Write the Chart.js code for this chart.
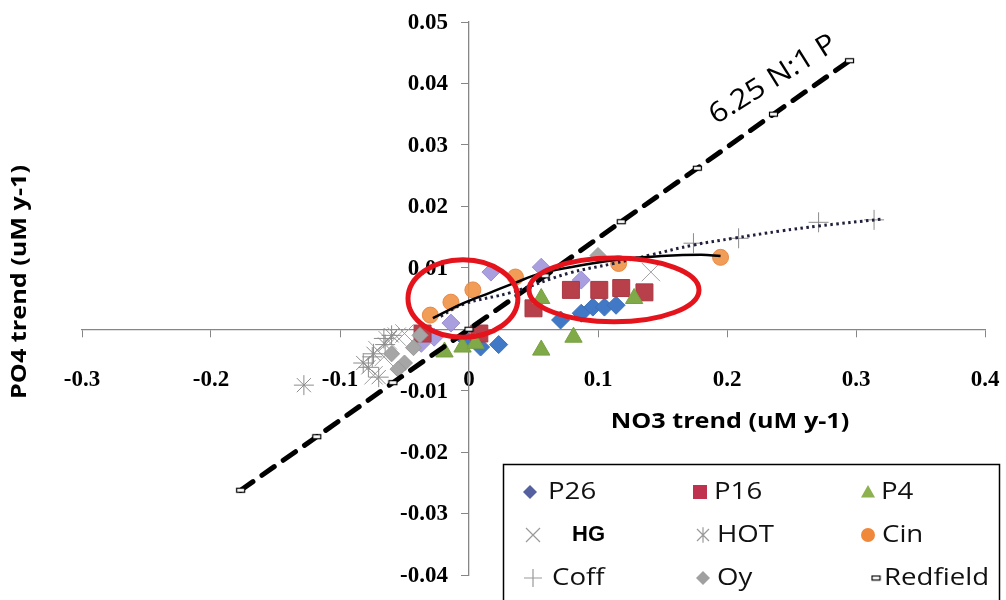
<!DOCTYPE html>
<html>
<head>
<meta charset="utf-8">
<script src="https://cdn.jsdelivr.net/npm/chart.js@4.4.1/dist/chart.umd.min.js"></script>
<style>
html,body{margin:0;padding:0;background:#fff;}
#wrap{width:1006px;height:600px;position:relative;}
</style>
</head>
<body>
<div id="wrap"><canvas id="c" width="1006" height="600"></canvas></div>
<script>
// ---------- tick labels ----------
const xTicks = [-0.3, -0.2, -0.1, 0, 0.1, 0.2, 0.3, 0.4];
const yTicks = [-0.04, -0.03, -0.02, -0.01, 0, 0.01, 0.02, 0.03, 0.04, 0.05];

// ---------- series (NO3 trend x, PO4 trend y) ----------
const p26X  = [0.023, 0.009, -0.002, 0.071, 0.087, 0.096, 0.105, 0.114];
const p26Y  = [-0.0025, -0.0029, -0.0018, 0.0015, 0.0026, 0.0036, 0.0036, 0.0039];
const p26bX = [0.017, 0.056, 0.087, -0.014, -0.027, -0.037];
const p26bY = [0.0093, 0.0101, 0.0080, 0.0010, -0.0013, -0.0023];
const p16X  = [0.050, 0.079, 0.101, 0.118, 0.136, 0.008, -0.036];
const p16Y  = [0.0034, 0.0064, 0.0064, 0.0067, 0.0060, -0.0007, -0.0007];
const p4X   = [0.056, 0.081, 0.128, 0.056, -0.019, -0.005, 0.005];
const p4Y   = [-0.0034, -0.0013, 0.0050, 0.0050, -0.0037, -0.0029, -0.0023];
const hgX   = [0.141, -0.071, -0.063, -0.050, -0.074, -0.066, -0.056];
const hgY   = [0.0093, -0.0034, -0.0018, -0.0007, -0.0075, -0.0045, -0.0012];
const hotX  = [-0.128, -0.074, -0.078, -0.070, -0.065, -0.082, -0.060];
const hotY  = [-0.0091, -0.0040, -0.0062, -0.0078, -0.0025, -0.0055, -0.0010];
const cinX  = [0.195, 0.116, 0.036, 0.003, -0.014, -0.030];
const cinY  = [0.0117, 0.0107, 0.0085, 0.0064, 0.0044, 0.0023];
const coffX = [0.174, 0.209, 0.271, 0.314, -0.066, -0.075];
const coffY = [0.0140, 0.0148, 0.0174, 0.0178, -0.0015, -0.0045];
const oyX   = [0.100, -0.050, -0.043, -0.055, -0.038, -0.060];
const oyY   = [0.0120, -0.0055, -0.0030, -0.0065, -0.0010, -0.0040];
const redX  = [-0.177, -0.118, -0.059, 0, 0.059, 0.118, 0.177, 0.236, 0.295];
const redY  = [-0.0262, -0.0175, -0.0087, 0, 0.0087, 0.0175, 0.0262, 0.0350, 0.0437];

// trend lines
const cinTrendX  = [-0.028, -0.006, 0.017, 0.035, 0.056, 0.087, 0.118, 0.149, 0.180, 0.195];
const cinTrendY  = [0.0018, 0.0041, 0.0060, 0.0075, 0.0091, 0.0104, 0.0114, 0.0119, 0.0121, 0.0119];
const coffTrendX = [-0.022, -0.004, 0.033, 0.077, 0.112, 0.141, 0.174, 0.205, 0.242, 0.271, 0.319];
const coffTrendY = [0.0021, 0.0041, 0.0060, 0.0091, 0.0107, 0.0121, 0.0137, 0.0148, 0.0160, 0.0168, 0.0179];

// annotations (data units)
const ratioLabel = {text: '6.25 N:1 P', x: 0.2357, y: 0.0406};
const ellipses = [
  {cx: -0.0047, cy: 0.0050, rx: 0.0426, ry: 0.0063},
  {cx: 0.1124, cy: 0.0064, rx: 0.0659, ry: 0.0052}
];

const zip = (xs, ys) => xs.map((v, i) => ({x: v, y: ys[i]}));

// Redfield dash marker
const dashMarker = document.createElement('canvas');
dashMarker.width = 11; dashMarker.height = 7;
(function(){
  const d = dashMarker.getContext('2d');
  d.fillStyle = '#fff'; d.fillRect(1, 1, 9, 5);
  d.strokeStyle = '#000'; d.lineWidth = 1.2; d.strokeRect(1.5, 1.5, 8, 4);
})();

const fmt = v => { const r = Math.round(v * 100) / 100; return String(r); };

function stretchText(ctx, text, x, y, font, sx, align, color, rot) {
  ctx.save();
  ctx.translate(x, y);
  if (rot) ctx.rotate(rot);
  ctx.scale(sx, 1);
  ctx.font = font;
  ctx.fillStyle = color || '#000';
  ctx.textAlign = align || 'left';
  ctx.textBaseline = 'middle';
  ctx.fillText(text, 0, 0);
  ctx.restore();
}

function marker(ctx, type, x, y, s, fill, stroke) {
  ctx.save();
  ctx.fillStyle = fill; ctx.strokeStyle = stroke || fill; ctx.lineWidth = 1.2;
  ctx.beginPath();
  if (type === 'diamond') {
    ctx.moveTo(x, y - s); ctx.lineTo(x + s, y); ctx.lineTo(x, y + s); ctx.lineTo(x - s, y); ctx.closePath(); ctx.fill();
  } else if (type === 'square') {
    ctx.rect(x - s, y - s, 2 * s, 2 * s); ctx.fill();
  } else if (type === 'triangle') {
    ctx.moveTo(x, y - s); ctx.lineTo(x + s, y + s * 0.8); ctx.lineTo(x - s, y + s * 0.8); ctx.closePath(); ctx.fill();
  } else if (type === 'circle') {
    ctx.arc(x, y, s, 0, 2 * Math.PI); ctx.fill();
  } else if (type === 'x') {
    ctx.moveTo(x - s, y - s); ctx.lineTo(x + s, y + s); ctx.moveTo(x + s, y - s); ctx.lineTo(x - s, y + s); ctx.stroke();
  } else if (type === 'star') {
    ctx.moveTo(x - s, y - s); ctx.lineTo(x + s, y + s); ctx.moveTo(x + s, y - s); ctx.lineTo(x - s, y + s);
    ctx.moveTo(x, y - s * 1.3); ctx.lineTo(x, y + s * 1.3); ctx.stroke();
  } else if (type === 'plus') {
    ctx.moveTo(x - s, y); ctx.lineTo(x + s, y); ctx.moveTo(x, y - s); ctx.lineTo(x, y + s); ctx.stroke();
  } else if (type === 'dash') {
    ctx.drawImage(dashMarker, x - 5.5, y - 3.5);
  }
  ctx.restore();
}

const tickFont = {family: '"Liberation Serif"', weight: 'bold', size: 23};
const axisColor = '#868686';

const overlay = {
  id: 'overlay',
  beforeDatasetsDraw(chart) {
    // y-axis tick labels, placed left of the crossing y axis using the library's own ticks
    const {ctx, scales: {x, y}} = chart;
    const axisX = x.getPixelForValue(0);
    ctx.save();
    ctx.font = 'bold 23px "Liberation Serif"';
    ctx.fillStyle = '#000';
    ctx.textAlign = 'right';
    ctx.textBaseline = 'middle';
    y.ticks.forEach(t => {
      if (Math.abs(t.value) < 1e-9) return;
      ctx.fillText(fmt(t.value), axisX - 21, y.getPixelForValue(t.value) + 1);
    });
    ctx.restore();
  },
  afterDatasetsDraw(chart) {
    const {ctx, scales: {x, y}} = chart;
    ctx.save();
    ctx.strokeStyle = '#e5141c';
    ctx.lineWidth = 5;
    ellipses.forEach(e => {
      const cx = x.getPixelForValue(e.cx), cy = y.getPixelForValue(e.cy);
      const rx = Math.abs(x.getPixelForValue(e.cx + e.rx) - cx);
      const ry = Math.abs(y.getPixelForValue(e.cy + e.ry) - cy);
      ctx.beginPath(); ctx.ellipse(cx, cy, rx, ry, 0, 0, 2 * Math.PI); ctx.stroke();
    });
    ctx.restore();
    stretchText(ctx, ratioLabel.text, x.getPixelForValue(ratioLabel.x), y.getPixelForValue(ratioLabel.y),
      '28px "Open Sans"', 1.1, 'center', '#000', -32 * Math.PI / 180);
  },
  afterDraw(chart) {
    const ctx = chart.ctx;
    stretchText(ctx, 'NO3 trend (uM y-1)', 730, 422, 'bold 21px "Open Sans"', 1.2, 'center', '#000');
    stretchText(ctx, 'PO4 trend (uM y-1)', 20, 282, 'bold 21px "Open Sans"', 1.2, 'center', '#000', -Math.PI / 2);
    ctx.save();
    ctx.fillStyle = '#fff';
    ctx.fillRect(503, 464, 497, 140);
    ctx.strokeStyle = '#000'; ctx.lineWidth = 1.5;
    ctx.strokeRect(503.5, 464.5, 496, 140);
    ctx.restore();
    const lf = '23px "Open Sans"';
    const rows = [492, 535, 578];
    marker(ctx, 'diamond', 530, rows[0], 7, '#5560a0');
    stretchText(ctx, 'P26', 548, rows[0], lf, 1.2, 'left', '#111');
    marker(ctx, 'square', 700, rows[0], 7, '#c0304f');
    stretchText(ctx, 'P16', 714, rows[0], lf, 1.2, 'left', '#111');
    marker(ctx, 'triangle', 868, rows[0], 7, '#8db050');
    stretchText(ctx, 'P4', 881, rows[0], lf, 1.2, 'left', '#111');
    marker(ctx, 'x', 533, rows[1], 7, '#999', '#999');
    ctx.save(); ctx.font = 'bold 22px "Liberation Sans"'; ctx.fillStyle = '#000'; ctx.textBaseline = 'middle'; ctx.fillText('HG', 572, rows[1]); ctx.restore();
    marker(ctx, 'star', 703, rows[1], 6, '#999', '#999');
    stretchText(ctx, 'HOT', 717, rows[1], lf, 1.2, 'left', '#111');
    marker(ctx, 'circle', 868, rows[1], 7, '#f0883c');
    stretchText(ctx, 'Cin', 882, rows[1], lf, 1.2, 'left', '#111');
    marker(ctx, 'plus', 533, rows[2], 9, '#999', '#999');
    stretchText(ctx, 'Coff', 552, rows[2], lf, 1.2, 'left', '#111');
    marker(ctx, 'diamond', 703, rows[2], 7, '#a0a0a0');
    stretchText(ctx, 'Oy', 717, rows[2], lf, 1.2, 'left', '#111');
    marker(ctx, 'dash', 876, rows[2], 5, '#000');
    stretchText(ctx, 'Redfield', 884, rows[2], lf, 1.2, 'left', '#111');
  }
};

new Chart(document.getElementById('c'), {
  type: 'scatter',
  data: {
    datasets: [
      {label: 'Cin trend', data: zip(cinTrendX, cinTrendY), showLine: true, borderColor: '#000', borderWidth: 2.5,
        pointRadius: 0, tension: 0.4, fill: false, order: 0},
      {label: 'Coff trend', data: zip(coffTrendX, coffTrendY), showLine: true, borderColor: '#20203c', borderWidth: 3,
        borderDash: [2.5, 3.5], pointRadius: 0, tension: 0.4, fill: false, order: 0},
      {label: 'Redfield', data: zip(redX, redY), showLine: true, borderColor: '#000', borderWidth: 5,
        borderDash: [15, 11], borderCapStyle: 'round', pointStyle: dashMarker, pointRadius: 5, order: 1},
      {label: 'Oy', data: zip(oyX, oyY), pointStyle: 'rectRot', pointRadius: 8, backgroundColor: '#a6a6a6', borderColor: '#9a9a9a', borderWidth: 1, order: 2},
      {label: 'Coff', data: zip(coffX, coffY), pointStyle: 'cross', pointRadius: 10, borderColor: '#8c8c8c', borderWidth: 1, order: 3},
      {label: 'Cin', data: zip(cinX, cinY), pointStyle: 'circle', pointRadius: 8, backgroundColor: 'rgba(240,146,70,0.9)', borderColor: 'rgba(230,130,60,0.9)', borderWidth: 1, order: 4},
      {label: 'HOT', data: zip(hotX, hotY), pointStyle: 'star', pointRadius: 10, borderColor: '#8c8c8c', borderWidth: 1, order: 5},
      {label: 'HG', data: zip(hgX, hgY), pointStyle: 'crossRot', pointRadius: 13, borderColor: '#a0a0a0', borderWidth: 1, order: 6},
      {label: 'P4', data: zip(p4X, p4Y), pointStyle: 'triangle', pointRadius: 10, backgroundColor: '#80aa48', borderColor: '#78a040', borderWidth: 1, order: 7},
      {label: 'P16', data: zip(p16X, p16Y), pointStyle: 'rect', pointRadius: 12, backgroundColor: '#b7404b', borderColor: '#a83843', borderWidth: 1, order: 8},
      {label: 'P26', data: zip(p26X, p26Y), pointStyle: 'rectRot', pointRadius: 9, backgroundColor: '#4179c6', borderColor: '#3a70b8', borderWidth: 1, order: 9},
      {label: 'P26 ', data: zip(p26bX, p26bY), pointStyle: 'rectRot', pointRadius: 9, backgroundColor: 'rgba(160,148,218,0.9)', borderColor: 'rgba(150,138,208,0.9)', borderWidth: 1, order: 10}
    ]
  },
  options: {
    responsive: false,
    animation: false,
    devicePixelRatio: 1,
    events: [],
    layout: {padding: {left: 82, right: 21, top: 22, bottom: 25}},
    plugins: {legend: {display: false}, tooltip: {enabled: false}, title: {display: false}},
    scales: {
      x: {
        type: 'linear', min: -0.3, max: 0.4, position: {y: 0},
        afterBuildTicks: s => { s.ticks = xTicks.map(v => ({value: v})); },
        afterFit: s => { s.height = 0; s.paddingLeft = 0; s.paddingRight = 0; },
        ticks: {callback: v => fmt(v), font: tickFont, color: '#000', padding: 30, maxRotation: 0, autoSkip: false},
        grid: {display: true, drawOnChartArea: false, drawTicks: true, tickLength: 7, color: axisColor, lineWidth: 1},
        border: {display: true, color: axisColor, width: 1.3}
      },
      y: {
        type: 'linear', min: -0.04, max: 0.05, position: {x: 0},
        afterBuildTicks: s => { s.ticks = yTicks.map(v => ({value: v})); },
        afterFit: s => { s.width = 0; s.paddingTop = 0; s.paddingBottom = 0; },
        ticks: {display: false, autoSkip: false},
        grid: {display: true, drawOnChartArea: false, drawTicks: true, tickLength: 7, color: axisColor, lineWidth: 1},
        border: {display: true, color: axisColor, width: 1.3}
      }
    }
  },
  plugins: [overlay]
});
</script>
</body>
</html>
